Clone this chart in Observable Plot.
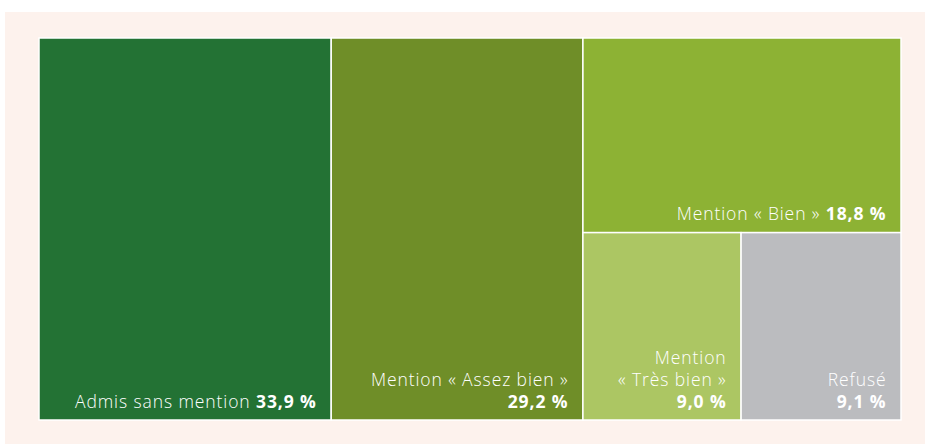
<!DOCTYPE html>
<html><head><meta charset="utf-8">
<script src="https://cdn.jsdelivr.net/npm/d3@7"></script>
<script src="https://cdn.jsdelivr.net/npm/@observablehq/plot@0.6"></script>
<style>
html,body{margin:0;padding:0;background:#fff;}
#panel{position:absolute;left:5px;top:12px;width:920px;height:432px;background:#fdf2ed;}
#panel svg{display:block;}
</style></head><body><div id="panel"></div>
<script>
const categories = ["Admis sans mention", "Mention « Assez bien »", "Mention « Bien »", "Mention\n« Très bien »", "Refusé"];
const values = [33.9, 29.2, 18.8, 9.0, 9.1];
const valueLabels = ["33,9 %", "29,2 %", "18,8 %", "9,0 %", "9,1 %"];
const valueOnNewLine = [false, true, false, true, true];
const colors = ["#237234", "#6f8e28", "#8db234", "#acc663", "#bbbcbf"];

// layout grouping: two wide columns, then a column split into "Bien" and a row of two
const tree = {children: [{leaf: 0}, {leaf: 1}, {children: [{leaf: 2}, {children: [{leaf: 3}, {leaf: 4}]}]}]};
const root = d3.hierarchy(tree).sum(d => d.leaf !== undefined ? values[d.leaf] : 0);
d3.treemap().tile(d3.treemapSliceDice).size([1, 1]).round(false)(root);
const cells = root.leaves().map(n => {
  const i = n.data.leaf;
  return {
    x0: n.x0, x1: n.x1, y0: n.y0, y1: n.y1,
    color: colors[i],
    label: categories[i] + (valueOnNewLine[i] ? "\n" : " ") + valueLabels[i],
    value: valueLabels[i]
  };
});

const chart = Plot.plot({
  width: 920, height: 432,
  marginLeft: 34, marginRight: 24, marginTop: 26, marginBottom: 24,
  x: {domain: [0, 1], axis: null},
  y: {domain: [0, 1], range: [26, 408], axis: null},
  color: {type: "identity"},
  style: {background: "transparent", fontFamily: "'Open Sans', 'Noto Sans', sans-serif"},
  marks: [
    Plot.rect(cells, {x1: "x0", x2: "x1", y1: "y0", y2: "y1", fill: "color", stroke: "white", strokeWidth: 1.5}),
    Plot.text(cells, {x: "x1", y: "y1", text: "label", textAnchor: "end", lineAnchor: "bottom",
      dx: -15, dy: -13, fill: "white", fontSize: 17.5, lineHeight: 1.257, fontWeight: 300})
  ]
});
document.getElementById("panel").appendChild(chart);
chart.querySelectorAll('g[aria-label="text"]').forEach(g => g.setAttribute("letter-spacing", "0.9px"));

// bold value part of each label
const texts = chart.querySelectorAll('g[aria-label="text"] text');
texts.forEach((t, k) => {
  const val = cells[k].value;
  const tspans = t.querySelectorAll("tspan");
  if (tspans.length) {
    tspans[tspans.length - 1].setAttribute("font-weight", 700);
  } else {
    const s = t.textContent;
    const name = s.slice(0, s.length - val.length);
    t.textContent = "";
    const a = document.createElementNS("http://www.w3.org/2000/svg", "tspan");
    a.textContent = name;
    const b = document.createElementNS("http://www.w3.org/2000/svg", "tspan");
    b.textContent = val;
    b.setAttribute("font-weight", 700);
    t.appendChild(a); t.appendChild(b);
  }
});
</script></body></html>
